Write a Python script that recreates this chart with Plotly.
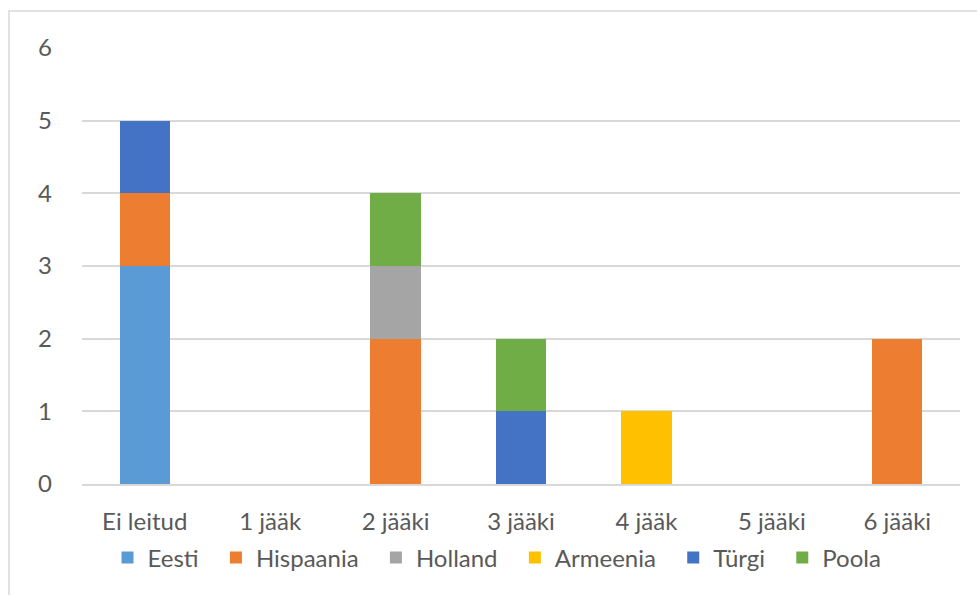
import plotly.graph_objects as go

categories = ["Ei leitud", "1 jääk", "2 jääki", "3 jääki", "4 jääk", "5 jääki", "6 jääki"]
eesti = [3, 0, 0, 0, 0, 0, 0]
hispaania = [1, 0, 2, 0, 0, 0, 2]
holland = [0, 0, 1, 0, 0, 0, 0]
armeenia = [0, 0, 0, 0, 1, 0, 0]
turgi = [1, 0, 0, 1, 0, 0, 0]
poola = [0, 0, 1, 1, 0, 0, 0]
y_ticks = [0, 1, 2, 3, 4, 5, 6]

series = [
    ("Eesti", eesti, "#5B9BD5"),
    ("Hispaania", hispaania, "#ED7D31"),
    ("Holland", holland, "#A5A5A5"),
    ("Armeenia", armeenia, "#FFC000"),
    ("Türgi", turgi, "#4472C4"),
    ("Poola", poola, "#70AD47"),
]

fig = go.Figure()
for i, (name, vals, color) in enumerate(series):
    label = name + ("\u00a0\u00a0" if i < len(series) - 1 else "")
    fig.add_trace(go.Bar(x=categories, y=vals, name=label, marker=dict(color=color, line=dict(width=0))))

W, H = 977, 595
L, R, T, B = 82, 17, 48, 111
pw, ph = W - L - R, H - T - B
FS = 24
FONT = "Lato, Open Sans, sans-serif"

fig.update_layout(
    width=W, height=H,
    barmode="stack", bargap=0.6,
    margin=dict(l=L, r=R, t=T, b=B),
    plot_bgcolor="white", paper_bgcolor="white",
    font=dict(family=FONT, size=FS, color="#595959"),
    showlegend=True,
    legend=dict(orientation="h", x=0.5 - 24 / pw, xanchor="center", y=(484 - 558) / ph, yanchor="middle",
                font=dict(family=FONT, size=FS, color="#595959"), itemwidth=30, traceorder="normal"),
    xaxis=dict(showgrid=False, showline=True, linecolor="#D9D9D9", linewidth=1.5, ticks="",
               ticklabelstandoff=15, tickfont=dict(family=FONT, size=FS, color="#595959")),
    yaxis=dict(range=[0, 6], tickvals=y_ticks, showgrid=True, gridcolor="#D9D9D9", gridwidth=1.5,
               zeroline=False, showline=False, ticks="", ticklabelstandoff=29,
               tickfont=dict(family=FONT, size=FS, color="#595959")),
    shapes=[dict(type="rect", xref="paper", yref="paper",
                 x0=(9 - L) / pw, x1=1.1, y0=-0.5, y1=1 + (T - 11) / ph,
                 line=dict(color="#D9D9D9", width=1.5), fillcolor="rgba(0,0,0,0)", layer="below")],
)

fig.write_html("out.html")
